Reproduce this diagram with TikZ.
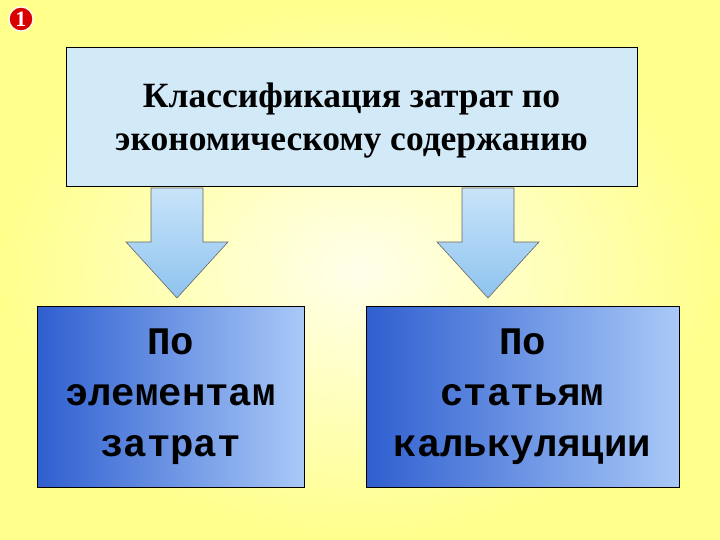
\documentclass[tikz,border=0pt]{standalone}
\usepackage{fontspec}
\setmainfont{Liberation Serif}
\newfontfamily\monob{Liberation Mono}
\definecolor{topfill}{HTML}{D2E9F8}
\definecolor{bdark}{HTML}{2F5FD0}
\definecolor{blight}{HTML}{A9C9F7}
\definecolor{atop}{HTML}{C8E4FA}
\definecolor{abot}{HTML}{8EC3EE}
\tikzset{
 topbox/.style={draw=black,line width=0.8pt,fill=topfill},
 botbox/.style={draw=black,line width=0.8pt,left color=bdark,right color=blight},
 barrow/.style={draw=black!60,line width=0.6pt,top color=atop,bottom color=abot},
 lbl/.style={align=center,font=\monob\bfseries\fontsize{39}{51}\selectfont}
}
\begin{document}
\begin{tikzpicture}[x=1pt,y=-1pt]
\useasboundingbox (0,0) rectangle (720,540);
\shade[inner color=yellow!8!white,outer color=yellow!45!white] (0,0) rectangle (720,540);
\node[circle,draw=white,line width=1.2pt,fill=red!85!black,minimum size=24pt,inner sep=0pt,text=white,font=\bfseries\fontsize{22}{22}\selectfont] (badge) at (21,19) {1};
\draw[topbox] (66,47) rectangle (637,186);
\node[align=center,font=\bfseries\fontsize{35.5}{43}\selectfont] (top) at (351.5,121) {Классификация затрат по\\экономическому содержанию};
\draw[barrow] (151,188) -- (203,188) -- (203,242) -- (228,242) -- (177,298) -- (126,242) -- (151,242) -- cycle;
\draw[barrow] (462,188) -- (514,188) -- (514,242) -- (539,242) -- (488,298) -- (437,242) -- (462,242) -- cycle;
\draw[botbox] (37,306) rectangle (304,487);
\draw[botbox] (366,306) rectangle (679,487);
\node[lbl] (l) at (170.5,397) {По\\элементам\\затрат};
\node[lbl] (r) at (522.5,397) {По\\статьям\\калькуляции};
\end{tikzpicture}
\end{document}
